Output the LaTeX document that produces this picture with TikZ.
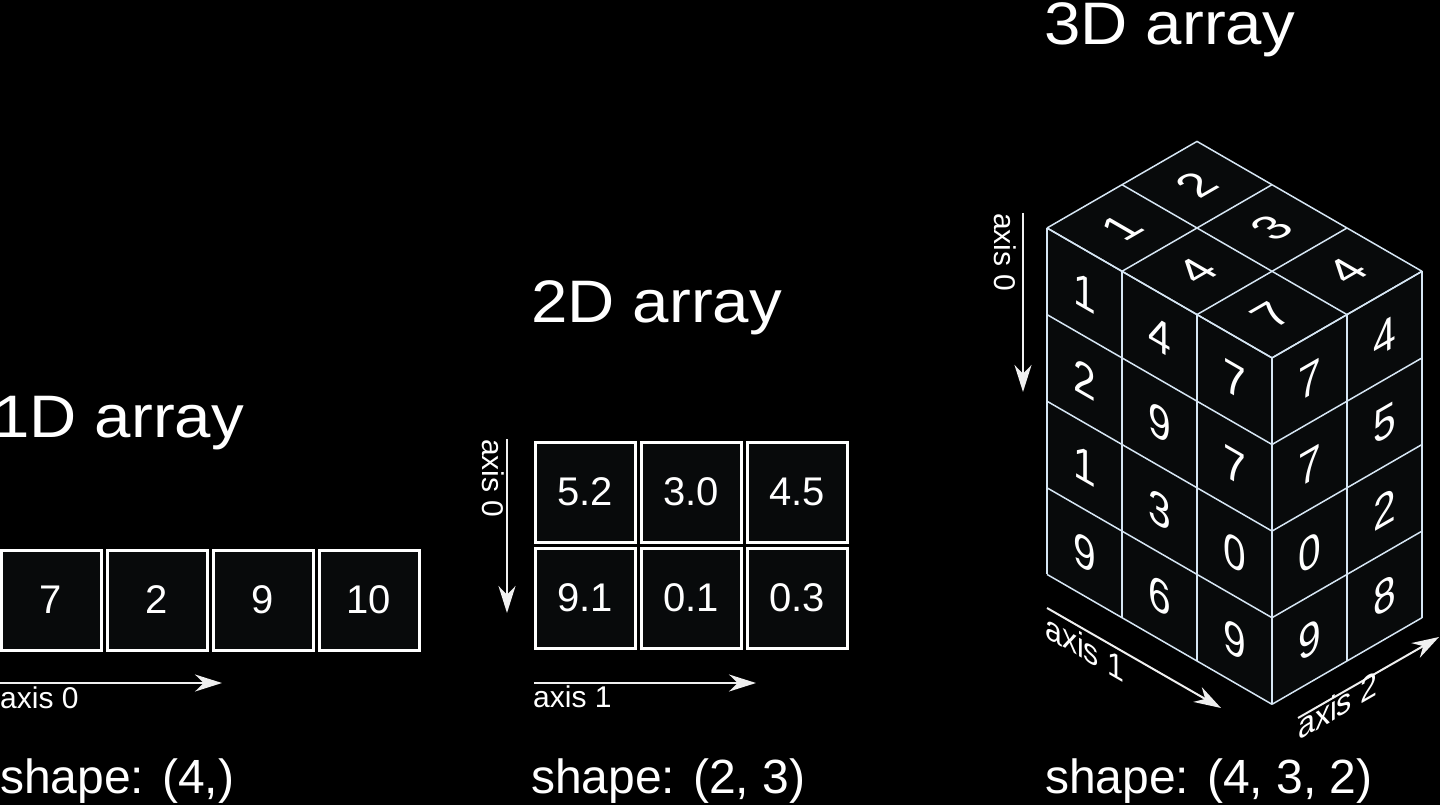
\documentclass[tikz,border=0pt]{standalone}
\usepackage{fontspec}
\setmainfont{Liberation Sans}
\newfontfamily\titlefont[FakeStretch=1.09]{Liberation Sans}
\usetikzlibrary{arrows.meta, positioning}
\definecolor{cellfill}{HTML}{080A0B}
\definecolor{gridline}{HTML}{D6E6F4}

\begin{document}
\begin{tikzpicture}[
    x=1pt, y=-1pt,
    node distance=3pt,
    cell/.style={draw=white, line width=3pt, fill=cellfill, minimum size=100pt,
                 inner sep=0pt, text=white, font=\fontsize{40}{40}\selectfont},
    ttl/.style={anchor=base west, inner sep=0pt, text=white, font=\titlefont\fontsize{60}{60}\selectfont},
    shapelbl/.style={anchor=base west, inner sep=0pt, text=white, font=\fontsize{48}{48}\selectfont},
    axlbl/.style={anchor=base west, inner sep=0pt, text=white, font=\fontsize{30}{30}\selectfont},
    arrow/.style={-{Stealth[length=27pt, width=17pt]}, line width=2pt, draw=white!94!black},
    gridln/.style={draw=gridline, line width=1.5pt},
    digit/.style={inner sep=0pt, text=white, font=\fontsize{47}{47}\selectfont},
    lface/.style={digit, cm={0.866,-0.5,0,1,(0,0)}},
    rface/.style={digit, cm={0.866,0.5,0,1,(0,0)}},
    tface/.style={digit, cm={0.866,0.5,-0.866,0.5,(0,0)}},
]
    \useasboundingbox (0,0) rectangle (1440,805);
    \fill[black] (0,0) rectangle (1440,805);

    % 1D array
    \node[ttl] (t1) at (-7,437) {1D array};
    \node[cell] (v0) at (51,600) {7};
    \node[cell, right=of v0] (v1) {2};
    \node[cell, right=of v1] (v2) {9};
    \node[cell, right=of v2] (v3) {10};
    \coordinate (v0s) at (-2,683);
    \coordinate (v0e) at (222,683);
    \draw[arrow] (v0s) -- (v0e);
    \node[axlbl] (v0lbl) at (0,708) {axis 0};
    \node[shapelbl] (s1) at (0,793) {shape: (4,)};

    % 2D array
    \node[ttl] (t2) at (531,322) {2D array};
    \node[cell] (m00) at (585,492) {5.2};
    \node[cell, right=of m00] (m01) {3.0};
    \node[cell, right=of m01] (m02) {4.5};
    \node[cell, below=of m00] (m10) {9.1};
    \node[cell, right=of m10] (m11) {0.1};
    \node[cell, right=of m11] (m12) {0.3};
    \coordinate (m0s) at (507,439);
    \coordinate (m0e) at (507,613);
    \draw[arrow] (m0s) -- (m0e);
    \node[axlbl, rotate=-90] (m0lbl) at (482,439) {axis 0};
    \coordinate (m1s) at (534,683);
    \coordinate (m1e) at (756,683);
    \draw[arrow] (m1s) -- (m1e);
    \node[axlbl] (m1lbl) at (533,707) {axis 1};
    \node[shapelbl] (s2) at (531,793) {shape: (2, 3)};

    % 3D array
    \node[ttl] (t3) at (1044,45) {3D array};
    \fill[cellfill] (1047,228) -- (1197,141.4) -- (1422,271.3) -- (1422,617.8)
        -- (1272,704.4) -- (1047,574.4) -- cycle;
    \foreach \i in {0,...,3}
        \draw[gridln] ({1047+75*\i},{228+43.3*\i}) -- ++(150,-86.6);
    \foreach \j in {0,1,2}
        \draw[gridln] ({1047+75*\j},{228-43.3*\j}) -- ++(225,129.9);
    \foreach \i in {0,...,3}
        \draw[gridln] ({1047+75*\i},{228+43.3*\i}) -- ++(0,346.4);
    \foreach \r in {0,...,4}
        \draw[gridln] (1047,{228+86.6*\r}) -- ++(225,129.9);
    \foreach \j in {1,2}
        \draw[gridln] ({1272+75*\j},{357.9-43.3*\j}) -- ++(0,346.4);
    \foreach \r in {0,...,4}
        \draw[gridln] (1272,{357.9+86.6*\r}) -- ++(150,-86.6);
    % top face
    \node[tface] (p00) at (1122,228) {1};
    \node[tface] (p01) at (1197,184.7) {2};
    \node[tface] (p10) at (1197,271.3) {4};
    \node[tface] (p11) at (1272,228) {3};
    \node[tface] (p20) at (1272,314.6) {7};
    \node[tface] (p21) at (1347,271.3) {4};
    % left and right faces
    \foreach \va/\vb/\vc [count=\r from 0] in {1/4/7, 2/9/7, 1/3/0, 9/6/9} {
        \node[lface] (l\r a) at (1084.5,{293+86.6*\r}) {\va};
        \node[lface] (l\r b) at (1159.5,{336.3+86.6*\r}) {\vb};
        \node[lface] (l\r c) at (1234.5,{379.6+86.6*\r}) {\vc};
    }
    \foreach \va/\vb [count=\r from 0] in {7/4, 7/5, 0/2, 9/8} {
        \node[rface] (r\r a) at (1309.5,{379.6+86.6*\r}) {\va};
        \node[rface] (r\r b) at (1384.5,{336.3+86.6*\r}) {\vb};
    }
    \coordinate (q0s) at (1023,213);
    \coordinate (q0e) at (1023,392);
    \draw[arrow] (q0s) -- (q0e);
    \node[axlbl, rotate=-90] (q0lbl) at (994,213) {axis 0};
    \coordinate (q1s) at (1047,608);
    \coordinate (q1e) at (1221,708);
    \draw[arrow] (q1s) -- (q1e);
    \node[axlbl, font=\fontsize{35}{35}\selectfont, cm={0.866,-0.5,0,1,(0,0)}] (q1lbl)
        at (1045,637) {axis 1};
    \coordinate (q2s) at (1298,718);
    \coordinate (q2e) at (1439,637);
    \draw[arrow] (q2s) -- (q2e);
    \node[axlbl, font=\fontsize{35}{35}\selectfont, cm={0.866,0.5,0,1,(0,0)}] (q2lbl)
        at (1298,741) {axis 2};
    \node[shapelbl] (s3) at (1045,793) {shape: (4, 3, 2)};
\end{tikzpicture}
\end{document}
